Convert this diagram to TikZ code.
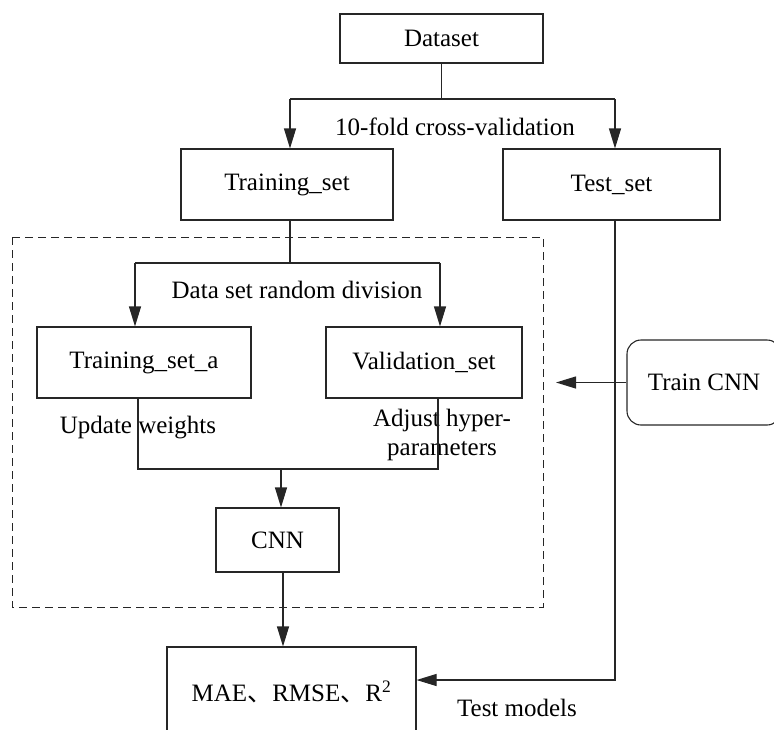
\documentclass[tikz,border=0pt]{standalone}
\usepackage{fontspec}
\setmainfont{Liberation Serif}
\newfontfamily\cjk{Noto Sans CJK SC}
\usetikzlibrary{arrows.meta}
\begin{document}
\begin{tikzpicture}[x=1pt,y=-1pt,
  font=\fontsize{25}{29}\selectfont,
  box/.style={draw=black!85, line width=1.1pt, inner sep=0pt, minimum width=#1},
  conn/.style={draw=black!85, line width=1.1pt},
  arr/.style={conn, -{Triangle[length=20pt,width=12pt]}},
  lbl/.style={inner sep=0pt}]
\useasboundingbox (0,0) rectangle (774,729);
\clip (0,0) rectangle (774,729);
% nodes
\node[box=203pt, minimum height=49pt] (ds) at (441.5,38.5) {Dataset};
\node[box=212pt, minimum height=71pt] (tr) at (287,184.5) {Training\_set};
\node[box=217pt, minimum height=71pt] (te) at (611.5,184.5) {Test\_set};
\node[box=214pt, minimum height=71pt] (tra) at (144,362.5) {Training\_set\_a};
\node[box=196pt, minimum height=71pt] (va) at (424,362.5) {Validation\_set};
\node[box=123pt, minimum height=64pt] (cnn) at (277.5,540) {CNN};
\node[box=249pt, minimum height=90pt] (mae) at (291.5,692) {MAE{\cjk 、}RMSE{\cjk 、}R\textsuperscript{2}};
\node[box=154pt, minimum height=85pt, rounded corners=14pt] (tcnn) at (704,382.5) {Train CNN};
% dashed frame
\draw[draw=black!85, line width=1pt, dash pattern=on 8pt off 5pt] (12,237) rectangle (543,607);
% labels
\node[lbl] (l10) at (455,127) {10-fold cross-validation};
\node[lbl] (lds) at (297,290) {Data set random division};
\node[lbl] (luw) at (138,428) {Update weights};
\node[lbl, align=center] (lah) at (442,435) {Adjust hyper-\\parameters};
\node[lbl] (ltm) at (517,708) {Test models};
% coordinates
\coordinate (j1) at (441.5,99);
\coordinate (h1l) at (290,99);
\coordinate (h1r) at (615,99);
\coordinate (j2) at (290,263);
\coordinate (h2l) at (135,263);
\coordinate (h2r) at (440,263);
\coordinate (m1) at (138,469);
\coordinate (m2) at (438,469);
\coordinate (mc) at (281,469);
\coordinate (tt) at (556,382.5);
\coordinate (tb) at (615,680);
% connectors
\draw[conn] (ds.south) -- (j1);
\draw[conn] (h1l) -- (h1r);
\draw[arr] (h1l) -- (h1l |- tr.north);
\draw[arr] (h1r) -- (h1r |- te.north);
\draw[conn] (tr.south -| j2) -- (j2);
\draw[conn] (h2l) -- (h2r);
\draw[arr] (h2l) -- (h2l |- tra.north);
\draw[arr] (h2r) -- (h2r |- va.north);
\draw[conn] (tra.south -| m1) -- (m1) -- (m2) -- (va.south -| m2);
\draw[arr] (mc) -- (mc |- cnn.north);
\draw[arr] (cnn.south -| 283,0) -- (283,0 |- mae.north);
\draw[arr] (tcnn.west) -- (tt);
\draw[arr] (te.south -| tb) -- (tb) -- (tb -| mae.east);
\end{tikzpicture}
\end{document}
